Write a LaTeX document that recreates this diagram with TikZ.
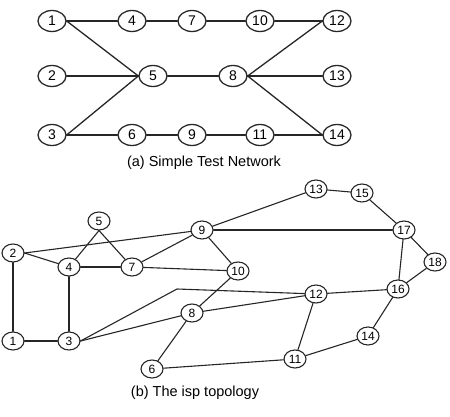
\documentclass[tikz,border=0pt]{standalone}
\usepackage{fontspec}
\setmainfont{Liberation Sans}
\usetikzlibrary{shapes.geometric}

\begin{document}
\begin{tikzpicture}[x=1pt, y=-1pt, line cap=round, line join=round,
	bignode/.style={ellipse, draw=black!85, line width=1.3pt, minimum width=28pt, minimum height=21pt, inner sep=0pt, font=\fontsize{14}{14}\selectfont},
	smallnode/.style={ellipse, draw=black!85, line width=1.1pt, minimum width=22pt, minimum height=18pt, inner sep=0pt, font=\fontsize{12}{12}\selectfont},
	biglink/.style={draw=black!85, line width=1.3pt},
	smalllink/.style={draw=black!85, line width=1.1pt},
	caption/.style={font=\fontsize{14.5}{14.5}\selectfont}]
	
	% Define bounding box
	\useasboundingbox (0,0) rectangle (450,417);
	
	% (a) Simple test network: nodes
	\node[bignode] (a1) at (52,21) {1};
	\node[bignode] (a4) at (132,21) {4};
	\node[bignode] (a7) at (192,21) {7};
	\node[bignode] (a10) at (260,21) {10};
	\node[bignode] (a12) at (337,21) {12};
	\node[bignode] (a2) at (52,76) {2};
	\node[bignode] (a5) at (153,76) {5};
	\node[bignode] (a8) at (233,76) {8};
	\node[bignode] (a13) at (337,76) {13};
	\node[bignode] (a3) at (52,135) {3};
	\node[bignode] (a6) at (132,135) {6};
	\node[bignode] (a9) at (192,135) {9};
	\node[bignode] (a11) at (260,135) {11};
	\node[bignode] (a14) at (337,135) {14};
	
	% (a) links, east side to west side
	\foreach \u/\v in {1/4, 4/7, 7/10, 10/12, 1/5, 2/5, 3/5, 5/8, 8/12, 8/13, 8/14, 3/6, 6/9, 9/11, 11/14}
		\draw[biglink] (a\u.east) -- (a\v.west);
	
	\node[caption] (capa) at (204,163) {(a) Simple Test Network};
	
	% (b) The isp topology: nodes
	\node[smallnode] (b1) at (13,341) {1};
	\node[smallnode] (b2) at (13,253) {2};
	\node[smallnode] (b3) at (69,341) {3};
	\node[smallnode] (b4) at (69,267) {4};
	\node[smallnode] (b5) at (99,221) {5};
	\node[smallnode] (b6) at (152,369) {6};
	\node[smallnode] (b7) at (132,267) {7};
	\node[smallnode] (b8) at (192,313) {8};
	\node[smallnode] (b9) at (202,230) {9};
	\node[smallnode] (b10) at (238,271) {10};
	\node[smallnode] (b11) at (295,359) {11};
	\node[smallnode] (b12) at (316,294) {12};
	\node[smallnode] (b13) at (316,189) {13};
	\node[smallnode] (b14) at (368,336) {14};
	\node[smallnode] (b15) at (362,193) {15};
	\node[smallnode] (b16) at (398,289) {16};
	\node[smallnode] (b17) at (404,230) {17};
	\node[smallnode] (b18) at (435,262) {18};
	\coordinate (bend) at (177,289);
	
	% (b) links
	\foreach \u/\v in {1/2, 1/3, 4/7, 4/3, 7/9, 7/10, 9/10, 9/13, 9/17, 13/15, 15/17, 17/16, 17/18, 18/16, 16/12, 16/14, 14/11, 11/12, 11/6, 6/8, 8/10, 8/12}
		\draw[smalllink] (b\u) -- (b\v);
	\draw[smalllink] (b2.east) -- (b4);
	\draw[smalllink] (b2.east) -- (b9);
	\draw[smalllink] (b5.south) -- (b4);
	\draw[smalllink] (b5.south) -- (b7);
	\draw[smalllink] (b3.east) -- (b8);
	\draw[smalllink] (b3.east) -- (bend) -- (b12);
	
	\node[caption] (capb) at (195,393) {(b) The isp topology};
	
\end{tikzpicture}
\end{document}
